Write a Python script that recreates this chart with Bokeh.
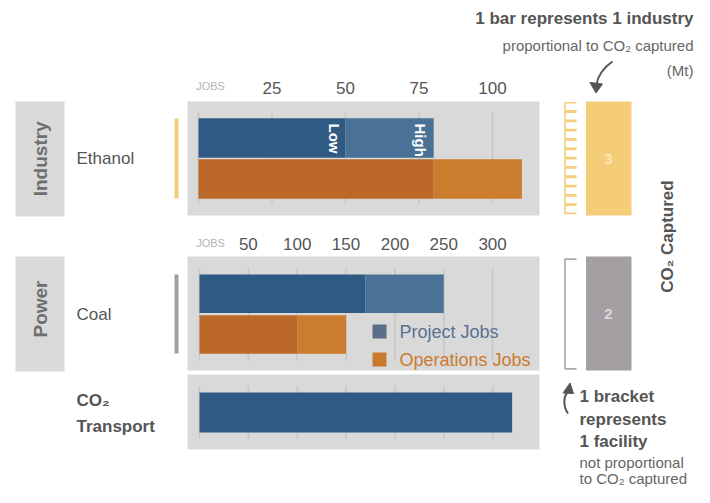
import numpy as np
from bokeh.plotting import figure
from bokeh.models import Range1d
from bokeh.core.properties import value
from bokeh.embed import file_html
from bokeh.resources import INLINE

# ---------------- data ----------------
sectors = ["Industry", "Power"]
industries = ["Ethanol", "Coal"]
project_low = [50, 170]
project_high = [80, 250]
ops_low = [80, 100]
ops_high = [110, 150]
transport_jobs = [320]
co2_captured = [3, 2]
facilities = [12, 1]
ind_ticks = [25, 50, 75, 100]
ind_grid = [0, 25, 50, 75, 100]
pow_ticks = [50, 100, 150, 200, 250, 300]
pow_grid = [0, 50, 100, 150, 200, 250, 300]
legend_labels = ["Project Jobs", "Operations Jobs"]

# ---------------- style / layout ----------------
FONT = value("Liberation Sans")
PANEL = "#d9d9d9"
GRID = "#c6c6c6"
BLUE_D = "#2f5a84"
BLUE_L = "#497296"
OR_D = "#bb6828"
OR_L = "#cb7c2c"
YELLOW = "#f5cd78"
GRAYBAR = "#a39fa3"
TXT = "#555555"
SUB = "#666666"

W, H = 694, 487
OX, OY = 0, 0
IND_ORIGIN, IND_PX = 198.0, 2.94
POW_ORIGIN, POW_PX = 199.0, 0.977

p = figure(width=W, height=H, x_range=Range1d(OX, OX + W), y_range=Range1d(OY + H, OY),
           x_axis_location=None, y_axis_location=None, min_border=0,
           output_backend="svg", toolbar_location=None)
p.grid.visible = False
p.outline_line_color = None
p.background_fill_color = "white"
p.border_fill_color = "white"
p.extra_x_ranges = {
    "ind": Range1d((OX - IND_ORIGIN) / IND_PX, (OX + W - IND_ORIGIN) / IND_PX),
    "pow": Range1d((OX - POW_ORIGIN) / POW_PX, (OX + W - POW_ORIGIN) / POW_PX),
}

def txt(x, y, s, size, color=TXT, bold=False, align="left", angle=0.0, rng="default", xo=0, baseline="middle"):
    p.text(x=[x], y=[y], text=[s], text_font=FONT, text_font_size=f"{size}px",
           text_font_style="bold" if bold else "normal", text_color=color,
           text_align=align, text_baseline=baseline, angle=angle, x_range_name=rng, x_offset=xo)

rows = [
    dict(rng="ind", panel=(101, 215), grid=(111.7, 203), proj_y=137.5, ops_y=178.5, bh=39.5,
         tick_y=87, ticks=ind_ticks, gridv=ind_grid, side=(101, 216), label_y=158.3, name_y=158,
         vline=(118, 198), vcol=YELLOW, bar_col=YELLOW, bar_txt="#fce6b8", brk_col=YELLOW,
         brk=(101.7, 213.5)),
    dict(rng="pow", panel=(256, 370), grid=(268, 360), proj_y=293.3, ops_y=334, bh=38.6,
         tick_y=243.5, ticks=pow_ticks, gridv=pow_grid, side=(256, 371), label_y=308.5, name_y=314,
         vline=(274, 353), vcol="#a0a0a0", bar_col=GRAYBAR, bar_txt="#dadada", brk_col="#aaaaaa",
         brk=(258, 369)),
]

for i, r in enumerate(rows):
    # gray panel
    p.quad(left=[187], right=[539], top=[r["panel"][0]], bottom=[r["panel"][1]], fill_color=PANEL, line_color=None)
    # side sector box
    p.quad(left=[15], right=[64], top=[r["side"][0]], bottom=[r["side"][1]], fill_color=PANEL, line_color=None)
    txt(39.5, r["label_y"], sectors[i], 19, color="#6e6e6e", bold=True, align="center", angle=np.pi / 2)
    txt(76, r["name_y"], industries[i], 17, color=TXT)
    # colored vertical marker
    p.quad(left=[174], right=[178], top=[r["vline"][0]], bottom=[r["vline"][1]], fill_color=r["vcol"], line_color=None)
    # grid lines
    p.segment(x0=r["gridv"], x1=r["gridv"], y0=[r["grid"][0]] * len(r["gridv"]), y1=[r["grid"][1]] * len(r["gridv"]),
              x_range_name=r["rng"], line_color=GRID, line_width=1.5)
    # tick labels
    p.text(x=r["ticks"], y=[r["tick_y"]] * len(r["ticks"]), text=[str(t) for t in r["ticks"]],
           x_range_name=r["rng"], text_font=FONT, text_font_size="17px", text_color=TXT,
           text_align="center", text_baseline="middle")
    txt(210, r["tick_y"] - 1.5, "JOBS", 11, color="#b4b4b4", align="center")
    # bars
    p.hbar(y=[r["proj_y"]], left=[0], right=[project_low[i]], height=r["bh"], x_range_name=r["rng"],
           fill_color=BLUE_D, line_color=None)
    p.hbar(y=[r["proj_y"]], left=[project_low[i]], right=[project_high[i]], height=r["bh"], x_range_name=r["rng"],
           fill_color=BLUE_L, line_color=None)
    p.hbar(y=[r["ops_y"]], left=[0], right=[ops_low[i]], height=r["bh"], x_range_name=r["rng"],
           fill_color=OR_D, line_color=None)
    p.hbar(y=[r["ops_y"]], left=[ops_low[i]], right=[ops_high[i]], height=r["bh"], x_range_name=r["rng"],
           fill_color=OR_L, line_color=None)
    # CO2 captured bar
    p.quad(left=[585.5], right=[631], top=[r["panel"][0]], bottom=[r["panel"][1]], fill_color=r["bar_col"], line_color=None)
    txt(608, (r["panel"][0] + r["panel"][1]) / 2, str(co2_captured[i]), 15, color=r["bar_txt"], bold=True, align="center")
    # facility brackets
    n = facilities[i]
    top, bot = r["brk"]
    h = (bot - top) / n
    xs, ys = [], []
    for k in range(n):
        t = top + k * h + 0.6
        b = top + (k + 1) * h - 0.6
        xs.append([576, 564.5, 564.5, 576])
        ys.append([t, t, b, b])
    p.multi_line(xs=xs, ys=ys, line_color=r["brk_col"], line_width=1.6)

# Low / High labels on Ethanol project bar
txt(project_low[0], 123, "Low", 15, color="white", bold=True, angle=-np.pi / 2, rng="ind", xo=-11)
txt(project_high[0], 123, "High", 15, color="white", bold=True, angle=-np.pi / 2, rng="ind", xo=-13)

# legend
p.quad(left=[372], right=[386], top=[324], bottom=[338], fill_color="#5b6e88", line_color=None)
p.quad(left=[372], right=[386], top=[352], bottom=[366], fill_color="#c8792b", line_color=None)
txt(399, 331, legend_labels[0], 18, color="#5b7191")
txt(399, 359, legend_labels[1], 18, color="#c97b2f")

# transport
p.quad(left=[187], right=[539], top=[374], bottom=[449], fill_color=PANEL, line_color=None)
p.segment(x0=pow_grid, x1=pow_grid, y0=[385.5] * len(pow_grid), y1=[438] * len(pow_grid),
          x_range_name="pow", line_color=GRID, line_width=1.5)
p.hbar(y=[412], left=[0], right=transport_jobs, height=40, x_range_name="pow", fill_color=BLUE_D, line_color=None)
txt(76, 400, "CO₂", 17, bold=True)
txt(76, 426, "Transport", 17, bold=True)

# right annotations
txt(693, 18, "1 bar represents 1 industry", 17, bold=True, align="right")
txt(693, 45, "proportional to CO₂ captured", 15, color=SUB, align="right")
txt(693, 70, "(Mt)", 15, color=SUB, align="right")
txt(667, 236, "CO₂ Captured", 17, bold=True, align="center", angle=np.pi / 2)

txt(579, 396, "1 bracket", 17, bold=True)
txt(579, 418.5, "represents", 17, bold=True)
txt(579, 441, "1 facility", 17, bold=True)
txt(579, 462, "not proportional", 15, color=SUB)
txt(579, 478, "to CO₂ captured", 15, color=SUB)

# arrows
ARW = "#555555"
p.bezier(x0=[612], y0=[61], x1=[596], y1=[84], cx0=[603], cy0=[67], cx1=[597], cy1=[76], line_color=ARW, line_width=2)
p.patch(x=[589.5, 595.5, 602], y=[82, 92.5, 83.5], fill_color=ARW, line_color=ARW)
p.bezier(x0=[567.5], y0=[413], x1=[568.5], y1=[390], cx0=[562], cy0=[405], cx1=[563], cy1=[395], line_color=ARW, line_width=2)
p.patch(x=[562.5, 569.5, 573], y=[392.5, 382.5, 393], fill_color=ARW, line_color=ARW)

open("out.html", "w").write(file_html(p, INLINE))
